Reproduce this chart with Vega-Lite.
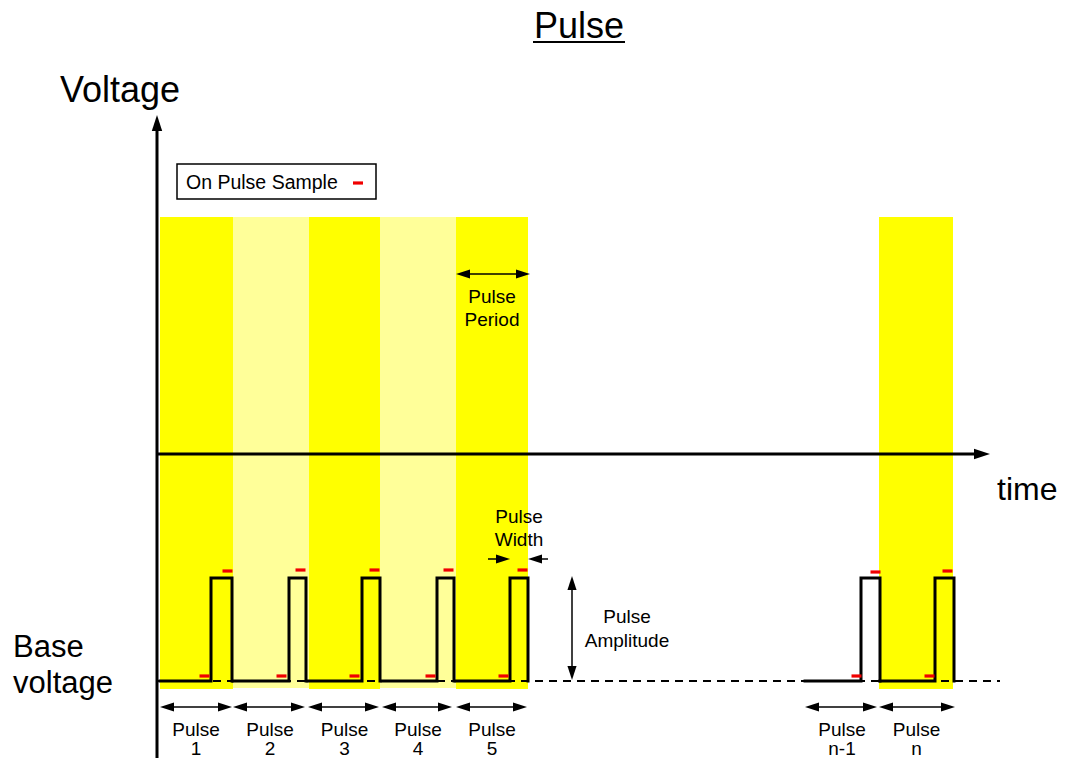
{
  "$schema": "https://vega.github.io/schema/vega-lite/v6.json",
  "width": 1067,
  "height": 760,
  "padding": 0,
  "autosize": {"type": "none"},
  "background": "white",
  "config": {"view": {"stroke": null}, "text": {"font": "Liberation Sans", "color": "black"}},
  "datasets": {
    "bands": [
      {"pulse": "1", "t": 160, "t2": 233, "v": 71, "v2": 543, "shade": "bright"},
      {"pulse": "2", "t": 233, "t2": 309, "v": 72, "v2": 543, "shade": "light"},
      {"pulse": "3", "t": 309, "t2": 380, "v": 71, "v2": 543, "shade": "bright"},
      {"pulse": "4", "t": 380, "t2": 456, "v": 72, "v2": 543, "shade": "light"},
      {"pulse": "5", "t": 456, "t2": 528, "v": 71, "v2": 543, "shade": "bright"},
      {"pulse": "n", "t": 879, "t2": 953, "v": 71, "v2": 543, "shade": "bright"}
    ],
    "legendBox": [{"t": 177, "t2": 376, "v": 561, "v2": 596}],
    "axes": [
      {"name": "voltage axis", "t": 157, "t2": 157, "v": 2, "v2": 632},
      {"name": "time axis", "t": 157, "t2": 978, "v": 306, "v2": 306}
    ],
    "underline": [{"t": 533, "t2": 625, "v": 718, "v2": 718}],
    "baseline": [{"t": 157, "t2": 1000, "v": 79, "v2": 79}],
    "wave": [
      {"pulse": "1", "ord": 1, "t": 160, "v": 79}, {"pulse": "1", "ord": 2, "t": 211, "v": 79}, {"pulse": "1", "ord": 3, "t": 211, "v": 182}, {"pulse": "1", "ord": 4, "t": 232, "v": 182}, {"pulse": "1", "ord": 5, "t": 232, "v": 79},
      {"pulse": "2", "ord": 1, "t": 233, "v": 79}, {"pulse": "2", "ord": 2, "t": 289, "v": 79}, {"pulse": "2", "ord": 3, "t": 289, "v": 182}, {"pulse": "2", "ord": 4, "t": 306, "v": 182}, {"pulse": "2", "ord": 5, "t": 306, "v": 79},
      {"pulse": "3", "ord": 1, "t": 308, "v": 79}, {"pulse": "3", "ord": 2, "t": 362, "v": 79}, {"pulse": "3", "ord": 3, "t": 362, "v": 182}, {"pulse": "3", "ord": 4, "t": 380, "v": 182}, {"pulse": "3", "ord": 5, "t": 380, "v": 79},
      {"pulse": "4", "ord": 1, "t": 382, "v": 79}, {"pulse": "4", "ord": 2, "t": 437, "v": 79}, {"pulse": "4", "ord": 3, "t": 437, "v": 182}, {"pulse": "4", "ord": 4, "t": 454, "v": 182}, {"pulse": "4", "ord": 5, "t": 454, "v": 79},
      {"pulse": "5", "ord": 1, "t": 456, "v": 79}, {"pulse": "5", "ord": 2, "t": 510, "v": 79}, {"pulse": "5", "ord": 3, "t": 510, "v": 182}, {"pulse": "5", "ord": 4, "t": 528, "v": 182}, {"pulse": "5", "ord": 5, "t": 528, "v": 79},
      {"pulse": "n-1", "ord": 1, "t": 805, "v": 79}, {"pulse": "n-1", "ord": 2, "t": 861, "v": 79}, {"pulse": "n-1", "ord": 3, "t": 861, "v": 182}, {"pulse": "n-1", "ord": 4, "t": 880, "v": 182}, {"pulse": "n-1", "ord": 5, "t": 880, "v": 79},
      {"pulse": "n", "ord": 1, "t": 880, "v": 79}, {"pulse": "n", "ord": 2, "t": 935, "v": 79}, {"pulse": "n", "ord": 3, "t": 935, "v": 182}, {"pulse": "n", "ord": 4, "t": 954, "v": 182}, {"pulse": "n", "ord": 5, "t": 954, "v": 79}
    ],
    "samples": [
      {"pulse": "1", "level": "low", "t": 204.5, "v": 84}, {"pulse": "1", "level": "high", "t": 227.5, "v": 189},
      {"pulse": "2", "level": "low", "t": 281.5, "v": 84}, {"pulse": "2", "level": "high", "t": 300.5, "v": 190},
      {"pulse": "3", "level": "low", "t": 354.5, "v": 84}, {"pulse": "3", "level": "high", "t": 374.5, "v": 190},
      {"pulse": "4", "level": "low", "t": 430.5, "v": 84}, {"pulse": "4", "level": "high", "t": 448.5, "v": 190},
      {"pulse": "5", "level": "low", "t": 503.5, "v": 84}, {"pulse": "5", "level": "high", "t": 522.5, "v": 190},
      {"pulse": "n-1", "level": "low", "t": 856.5, "v": 84}, {"pulse": "n-1", "level": "high", "t": 875.5, "v": 188},
      {"pulse": "n", "level": "low", "t": 929.5, "v": 84}, {"pulse": "n", "level": "high", "t": 947.5, "v": 189},
      {"pulse": "legend", "level": "key", "t": 358, "v": 577}
    ],
    "dims": [
      {"name": "pulse 1", "t": 163, "t2": 229, "v": 53, "v2": 53},
      {"name": "pulse 2", "t": 236, "t2": 302, "v": 53, "v2": 53},
      {"name": "pulse 3", "t": 311, "t2": 376, "v": 53, "v2": 53},
      {"name": "pulse 4", "t": 385, "t2": 449, "v": 53, "v2": 53},
      {"name": "pulse 5", "t": 459, "t2": 524, "v": 53, "v2": 53},
      {"name": "pulse n-1", "t": 808, "t2": 874, "v": 53, "v2": 53},
      {"name": "pulse n", "t": 882, "t2": 952, "v": 53, "v2": 53},
      {"name": "period", "t": 459, "t2": 527, "v": 486, "v2": 486},
      {"name": "width left", "t": 488, "t2": 507, "v": 201, "v2": 201},
      {"name": "width right", "t": 531, "t2": 548, "v": 201, "v2": 201},
      {"name": "amplitude", "t": 572, "t2": 572, "v": 83, "v2": 181}
    ],
    "heads": [
      {"group": "axis", "dir": "up", "t": 157, "v": 645},
      {"group": "axis", "dir": "right", "t": 990, "v": 306},
      {"group": "dim", "dir": "left", "t": 160, "v": 53}, {"group": "dim", "dir": "right", "t": 232, "v": 53},
      {"group": "dim", "dir": "left", "t": 233, "v": 53}, {"group": "dim", "dir": "right", "t": 305, "v": 53},
      {"group": "dim", "dir": "left", "t": 308, "v": 53}, {"group": "dim", "dir": "right", "t": 379, "v": 53},
      {"group": "dim", "dir": "left", "t": 382, "v": 53}, {"group": "dim", "dir": "right", "t": 452, "v": 53},
      {"group": "dim", "dir": "left", "t": 456, "v": 53}, {"group": "dim", "dir": "right", "t": 527, "v": 53},
      {"group": "dim", "dir": "left", "t": 805, "v": 53}, {"group": "dim", "dir": "right", "t": 877, "v": 53},
      {"group": "dim", "dir": "left", "t": 879, "v": 53}, {"group": "dim", "dir": "right", "t": 955, "v": 53},
      {"group": "dim", "dir": "left", "t": 456, "v": 486}, {"group": "dim", "dir": "right", "t": 530, "v": 486},
      {"group": "dim", "dir": "right", "t": 510, "v": 201}, {"group": "dim", "dir": "left", "t": 528, "v": 201},
      {"group": "dim", "dir": "up", "t": 572, "v": 184}, {"group": "dim", "dir": "down", "t": 572, "v": 80}
    ],
    "texts": [
      {"role": "title", "text": "Pulse", "t": 579, "v": 722},
      {"role": "axisTitle", "text": "Voltage", "t": 60, "v": 658},
      {"role": "time", "text": "time", "t": 997, "v": 260},
      {"role": "base", "text": "Base", "t": 13, "v": 103},
      {"role": "base", "text": "voltage", "t": 13, "v": 67},
      {"role": "legend", "text": "On Pulse Sample", "t": 186, "v": 571},
      {"role": "label", "text": "Pulse", "t": 196, "v": 24}, {"role": "label", "text": "1", "t": 196, "v": 5},
      {"role": "label", "text": "Pulse", "t": 270, "v": 24}, {"role": "label", "text": "2", "t": 270, "v": 5},
      {"role": "label", "text": "Pulse", "t": 344.5, "v": 24}, {"role": "label", "text": "3", "t": 344.5, "v": 5},
      {"role": "label", "text": "Pulse", "t": 418, "v": 24}, {"role": "label", "text": "4", "t": 418, "v": 5},
      {"role": "label", "text": "Pulse", "t": 492, "v": 24}, {"role": "label", "text": "5", "t": 492, "v": 5},
      {"role": "label", "text": "Pulse", "t": 842, "v": 24}, {"role": "label", "text": "n-1", "t": 842, "v": 5},
      {"role": "label", "text": "Pulse", "t": 916.5, "v": 24}, {"role": "label", "text": "n", "t": 916.5, "v": 5},
      {"role": "label", "text": "Pulse", "t": 492, "v": 457}, {"role": "label", "text": "Period", "t": 492, "v": 434},
      {"role": "label", "text": "Pulse", "t": 519, "v": 237}, {"role": "label", "text": "Width", "t": 519, "v": 214},
      {"role": "label", "text": "Pulse", "t": 627, "v": 137}, {"role": "label", "text": "Amplitude", "t": 627, "v": 113}
    ]
  },
  "encoding": {
    "x": {"field": "t", "type": "quantitative", "scale": {"domain": [0, 1067], "nice": false, "zero": false}, "axis": null},
    "y": {"field": "v", "type": "quantitative", "scale": {"domain": [0, 760], "nice": false, "zero": false}, "axis": null}
  },
  "layer": [
    {
      "data": {"name": "bands"},
      "mark": {"type": "rect"},
      "encoding": {
        "x2": {"field": "t2"}, "y2": {"field": "v2"},
        "fill": {"field": "shade", "type": "nominal", "scale": {"domain": ["bright", "light"], "range": ["#FFFF00", "#FFFF99"]}, "legend": null}
      }
    },
    {
      "data": {"name": "legendBox"},
      "mark": {"type": "rect", "fill": "white", "stroke": "black", "strokeWidth": 1.5},
      "encoding": {"x2": {"field": "t2"}, "y2": {"field": "v2"}}
    },
    {
      "data": {"name": "axes"},
      "mark": {"type": "rule", "color": "black", "strokeWidth": 3},
      "encoding": {"x2": {"field": "t2"}, "y2": {"field": "v2"}}
    },
    {
      "data": {"name": "baseline"},
      "mark": {"type": "rule", "color": "black", "strokeWidth": 2, "strokeDash": [8, 6]},
      "encoding": {"x2": {"field": "t2"}, "y2": {"field": "v2"}}
    },
    {
      "data": {"name": "wave"},
      "mark": {"type": "line", "color": "black", "strokeWidth": 3, "strokeJoin": "miter", "strokeCap": "square"},
      "encoding": {"detail": {"field": "pulse", "type": "nominal"}, "order": {"field": "ord", "type": "quantitative"}}
    },
    {
      "data": {"name": "underline"},
      "mark": {"type": "rule", "color": "black", "strokeWidth": 2},
      "encoding": {"x2": {"field": "t2"}, "y2": {"field": "v2"}}
    },
    {
      "data": {"name": "dims"},
      "mark": {"type": "rule", "color": "black", "strokeWidth": 1.5},
      "encoding": {"x2": {"field": "t2"}, "y2": {"field": "v2"}}
    },
    {
      "data": {"name": "samples"},
      "mark": {"type": "point", "filled": true, "opacity": 1, "color": "#F00000", "strokeWidth": 0, "size": 100, "shape": "M-1,-0.32L1,-0.32L1,0.32L-1,0.32Z"},
      "encoding": {}
    },
    {
      "data": {"name": "heads"},
      "mark": {"type": "point", "filled": true, "opacity": 1, "color": "black", "strokeWidth": 0},
      "encoding": {
        "shape": {"field": "dir", "type": "nominal", "scale": {"domain": ["right", "left", "up", "down"], "range": ["M0,0L-2,-0.65L-2,0.65Z", "M0,0L2,-0.65L2,0.65Z", "M0,0L-0.65,2L0.65,2Z", "M0,0L-0.65,-2L0.65,-2Z"]}, "legend": null},
        "size": {"field": "group", "type": "nominal", "scale": {"domain": ["axis", "dim"], "range": [256, 196]}, "legend": null}
      }
    },
    {
      "data": {"name": "texts"},
      "transform": [{"filter": "datum.role === 'title'"}],
      "mark": {"type": "text", "fontSize": 36, "align": "center", "baseline": "alphabetic"},
      "encoding": {"text": {"field": "text"}}
    },
    {
      "data": {"name": "texts"},
      "transform": [{"filter": "datum.role === 'axisTitle'"}],
      "mark": {"type": "text", "fontSize": 36, "align": "left", "baseline": "alphabetic"},
      "encoding": {"text": {"field": "text"}}
    },
    {
      "data": {"name": "texts"},
      "transform": [{"filter": "datum.role === 'time'"}],
      "mark": {"type": "text", "fontSize": 32, "align": "left", "baseline": "alphabetic"},
      "encoding": {"text": {"field": "text"}}
    },
    {
      "data": {"name": "texts"},
      "transform": [{"filter": "datum.role === 'base'"}],
      "mark": {"type": "text", "fontSize": 31, "align": "left", "baseline": "alphabetic"},
      "encoding": {"text": {"field": "text"}}
    },
    {
      "data": {"name": "texts"},
      "transform": [{"filter": "datum.role === 'legend'"}],
      "mark": {"type": "text", "fontSize": 19.5, "align": "left", "baseline": "alphabetic"},
      "encoding": {"text": {"field": "text"}}
    },
    {
      "data": {"name": "texts"},
      "transform": [{"filter": "datum.role === 'label'"}],
      "mark": {"type": "text", "fontSize": 19, "align": "center", "baseline": "alphabetic"},
      "encoding": {"text": {"field": "text"}}
    }
  ]
}
